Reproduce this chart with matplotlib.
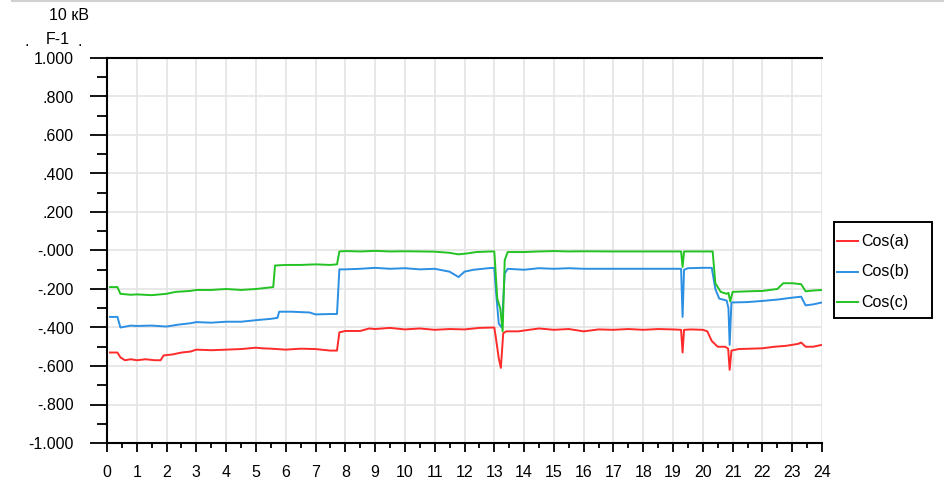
import matplotlib
matplotlib.use("Agg")
import matplotlib.pyplot as plt
from matplotlib.ticker import MultipleLocator, FuncFormatter
from matplotlib.lines import Line2D
from matplotlib.patches import Rectangle

plt.rcParams['font.family'] = ['Liberation Sans', 'DejaVu Sans']

# ---- data ----
hours_a = [0.1, 0.35, 0.45, 0.6, 0.8, 1.0, 1.3, 1.6, 1.8, 1.9, 2.2, 2.5, 2.8,
           3.0, 3.5, 4.0, 4.5, 5.0, 5.2, 5.5, 6.0, 6.5, 7.0, 7.5, 7.72, 7.8,
           8.0, 8.5, 8.8, 9.0, 9.5, 10.0, 10.5, 11.0, 11.5, 12.0, 12.5, 13.0,
           13.05, 13.15, 13.22, 13.3, 13.4, 13.8, 14.5, 15.0, 15.5, 16.0, 16.5,
           17.0, 17.5, 18.0, 18.5, 19.0, 19.27, 19.32, 19.37, 19.6, 20.0, 20.15,
           20.3, 20.5, 20.75, 20.85, 20.9, 20.96, 21.2, 21.6, 22.0, 22.4, 22.8,
           23.2, 23.3, 23.45, 23.7, 24.0]
cos_a = [-0.530, -0.530, -0.555, -0.570, -0.565, -0.570, -0.565, -0.570, -0.570,
         -0.545, -0.540, -0.530, -0.525, -0.515, -0.518, -0.515, -0.512, -0.505,
         -0.508, -0.510, -0.515, -0.510, -0.512, -0.520, -0.520, -0.425,
         -0.418, -0.418, -0.405, -0.408, -0.402, -0.410, -0.405, -0.412, -0.408,
         -0.410, -0.402, -0.400, -0.450, -0.560, -0.610, -0.430, -0.420, -0.420,
         -0.405, -0.412, -0.408, -0.420, -0.410, -0.412, -0.408, -0.412, -0.408,
         -0.410, -0.412, -0.530, -0.412, -0.410, -0.412, -0.420, -0.470, -0.500,
         -0.500, -0.510, -0.620, -0.520, -0.512, -0.510, -0.508, -0.500, -0.495,
         -0.485, -0.478, -0.500, -0.500, -0.490]

hours_b = [0.1, 0.35, 0.45, 0.8, 1.0, 1.5, 2.0, 2.4, 2.8, 3.0, 3.5, 4.0, 4.5, 5.0,
           5.5, 5.72, 5.78, 6.2, 6.8, 7.0, 7.5, 7.72, 7.8, 8.0, 8.5, 9.0, 9.5, 10.0,
           10.5, 11.0, 11.5, 11.8, 12.0, 12.3, 12.8, 13.0, 13.05, 13.15, 13.25,
           13.35, 13.45, 14.0, 14.5, 15.0, 15.5, 16.0, 16.5, 17.0, 17.5, 18.0,
           18.5, 19.0, 19.27, 19.32, 19.37, 19.5, 20.0, 20.3, 20.42, 20.55, 20.8,
           20.86, 20.9, 20.96, 21.5, 22.0, 22.5, 23.0, 23.3, 23.45, 23.7, 24.0]
cos_b = [-0.345, -0.345, -0.400, -0.390, -0.392, -0.390, -0.395, -0.385,
         -0.378, -0.372, -0.375, -0.370, -0.370, -0.362, -0.355, -0.350, -0.318,
         -0.318, -0.322, -0.332, -0.330, -0.330, -0.098, -0.098, -0.095, -0.090,
         -0.095, -0.092, -0.098, -0.095, -0.110, -0.138, -0.110, -0.100, -0.092,
         -0.090, -0.200, -0.380, -0.400, -0.120, -0.095, -0.100, -0.092, -0.095,
         -0.092, -0.095, -0.095, -0.095, -0.095, -0.095, -0.095, -0.095, -0.095,
         -0.345, -0.100, -0.092, -0.090, -0.090, -0.200, -0.250, -0.260, -0.300,
         -0.490, -0.270, -0.268, -0.262, -0.255, -0.245, -0.240, -0.285, -0.280,
         -0.270]

hours_c = [0.1, 0.35, 0.45, 0.8, 1.0, 1.5, 2.0, 2.3, 2.8, 3.0, 3.5, 4.0, 4.5, 5.0,
           5.58, 5.64, 6.0, 6.5, 7.0, 7.5, 7.72, 7.8, 8.0, 8.5, 9.0, 9.5, 10.0,
           10.5, 11.0, 11.5, 11.8, 12.1, 12.4, 12.9, 13.0, 13.1, 13.2, 13.28,
           13.35, 13.45, 14.0, 14.5, 15.0, 15.5, 16.0, 17.0, 18.0, 19.0, 19.27,
           19.32, 19.37, 19.5, 20.0, 20.33, 20.42, 20.6, 20.8, 20.86, 20.92, 21.0,
           21.5, 22.0, 22.5, 22.7, 23.0, 23.3, 23.45, 23.7, 24.0]
cos_c = [-0.190, -0.190, -0.225, -0.230, -0.228, -0.232, -0.225, -0.215,
         -0.210, -0.205, -0.205, -0.200, -0.205, -0.200, -0.190, -0.078, -0.075,
         -0.075, -0.072, -0.075, -0.072, -0.005, -0.003, -0.005, -0.002, -0.005,
         -0.004, -0.005, -0.006, -0.012, -0.020, -0.015, -0.008, -0.005, -0.005,
         -0.250, -0.300, -0.420, -0.050, -0.008, -0.008, -0.005, -0.003, -0.005,
         -0.004, -0.005, -0.005, -0.005, -0.005, -0.085, -0.005, -0.005, -0.005,
         -0.005, -0.170, -0.215, -0.225, -0.220, -0.265, -0.215, -0.212, -0.210,
         -0.200, -0.170, -0.170, -0.175, -0.212, -0.208, -0.205]

series_names = ["Cos(a)", "Cos(b)", "Cos(c)"]
series_colors = ["#ff2a2a", "#2b8fe3", "#22c322"]
x_ticks = list(range(0, 25))

W, H = 944, 490
FS = 11.5

def fx(px):
    return px / W

def fy(py):
    return 1 - py / H

# ---- figure ----
fig = plt.figure(figsize=(W / 100, H / 100), dpi=100)
ax = fig.add_axes([fx(107), fy(443), 715 / W, 385 / H])

for hx, hy, c in zip([hours_a, hours_b, hours_c], [cos_a, cos_b, cos_c], series_colors):
    ax.plot(hx, hy, color=c, lw=1.4)

ax.set_xlim(0, 24)
ax.set_ylim(-1.0, 1.0)
ax.set_xticks(x_ticks)
ax.xaxis.set_minor_locator(MultipleLocator(0.5))
ax.yaxis.set_major_locator(MultipleLocator(0.2))
ax.yaxis.set_minor_locator(MultipleLocator(0.1))

def yfmt(v, pos):
    if abs(v - 1.0) < 1e-9:
        return "1.000"
    if abs(v + 1.0) < 1e-9:
        return "-1.000"
    if abs(v) < 1e-9:
        return "-.000"
    return f"{v:.3f}".replace("0.", ".")
ax.yaxis.set_major_formatter(FuncFormatter(yfmt))

ax.grid(True, which='major', color='#e4e4e4', lw=1.2)
ax.set_axisbelow(True)
for s in ['left', 'bottom', 'top']:
    ax.spines[s].set_color('black')
    ax.spines[s].set_linewidth(1.5)
ax.spines['right'].set_visible(False)

ax.tick_params(axis='y', which='major', direction='out', length=12.2, width=1.3,
               pad=12, labelsize=FS, colors='black')
ax.tick_params(axis='y', which='minor', direction='out', length=7.2, width=1.3)
ax.tick_params(axis='x', which='major', direction='out', length=6.5, width=1.3,
               pad=9, labelsize=FS)
ax.tick_params(axis='x', which='minor', direction='out', length=3.3, width=1.3)

# header texts
fig.text(fx(69), fy(15), "10 кВ", ha='center', va='center', fontsize=FS)
fig.text(fx(58), fy(39), "F-1", ha='center', va='center', fontsize=FS)
fig.text(fx(27), fy(46), ".", ha='center', va='baseline', fontsize=FS)
fig.text(fx(80), fy(46), ".", ha='center', va='baseline', fontsize=FS)
fig.add_artist(Line2D([fx(12), 1.0], [fy(1.5), fy(1.5)], color='#d0d0d0', lw=1.5))

# legend (drawn as a framed box)
fig.add_artist(Rectangle((fx(834), fy(318)), 98 / W, 96 / H, transform=fig.transFigure,
                         facecolor='white', edgecolor='black', lw=1.4))
for i, (name, c) in enumerate(zip(series_names, series_colors)):
    yy = fy(241 + 30.5 * i)
    fig.add_artist(Line2D([fx(837), fx(858)], [yy, yy], color=c, lw=1.4))
    fig.text(fx(861), yy, name, ha='left', va='center', fontsize=FS)

fig.savefig("out.png", dpi=100)
